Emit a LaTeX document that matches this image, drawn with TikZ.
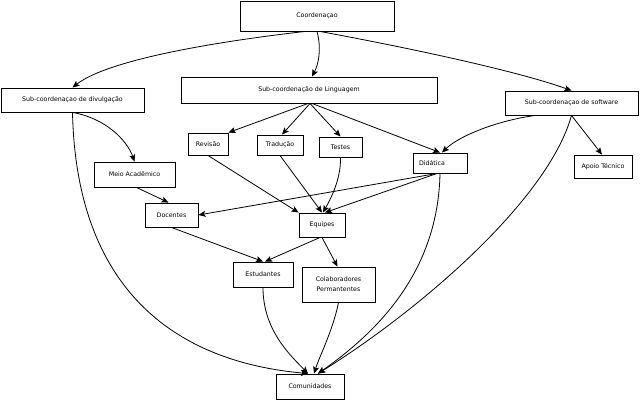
\documentclass[tikz,border=0pt]{standalone}
\usepackage{fontspec}
\setmainfont{DejaVu Sans}
\usetikzlibrary{arrows.meta,calc}
\begin{document}
\begin{tikzpicture}[x=1bp,y=-1bp,
  box/.style={draw,line width=0.9bp,inner sep=0pt,font=\fontsize{6.3}{10}\selectfont,align=center},
  sz/.style 2 args={minimum width=#1bp,minimum height=#2bp},
  arr/.style={line width=0.8bp,-{Stealth[length=7bp,width=6bp,inset=1.5bp]}}]
\fill[white] (0,0) rectangle (640,400);
\useasboundingbox (0,0) rectangle (640,400);

\node[box,sz={154}{30}] (coord) at (317,16) {Coordenaçao};
\node[box,sz={143}{24}] (subdiv) at (72.5,100) {Sub-coordenaçao de divulgação};
\node[box,sz={256}{26}] (subling) at (309,90) {Sub-coordenação de Linguagem};
\node[box,sz={133}{24}] (subsoft) at (571.5,103) {Sub-coordenaçao de software};
\node[box,sz={40}{22}] (revisao) at (208,144) {Revisão};
\node[box,sz={46}{20}] (traducao) at (280,145) {Tradução};
\node[box,sz={43}{20}] (testes) at (340.5,147) {Testes};
\node[box,sz={54}{20},text width=42bp,inner xsep=6bp,align=left] (didatica) at (440,163) {Didática};
\node[box,sz={58}{23}] (apoio) at (603,166.5) {Apoio Técnico};
\node[box,sz={81}{25}] (meio) at (134.5,174.5) {Meio Acadêmico};
\node[box,sz={53}{24}] (docentes) at (171.5,215) {Docentes};
\node[box,sz={46}{24}] (equipes) at (322,225) {Equipes};
\node[box,sz={60}{25}] (estudantes) at (263,274.5) {Estudantes};
\node[box,sz={73}{35}] (colab) at (338.5,284.5) {Colaboradores\\Permantentes};
\node[box,sz={68}{25}] (comun) at (310,386.5) {Comunidades};

% from Coordenaçao
\draw[arr] ($(coord.south)+(-12,0)$) .. controls (230,40) and (110,58) .. (subdiv.north);
\draw[arr] (coord.south) .. controls (322,50) and (318,65) .. ($(subling.north)+(3,0)$);
\draw[arr] ($(coord.south)+(3,0)$) .. controls (420,50) and (520,72) .. (subsoft.north);

% from Sub-coordenaçao de divulgação
\draw[arr] (subdiv.south) .. controls (105,118) and (127,140) .. (meio.north);
\draw[arr] (subdiv.south) .. controls (76,275) and (160,360) .. ($(comun.north)+(-2,0)$);

% from Sub-coordenação de Linguagem
\draw[arr] ($(subling.south)+(-1,0)$) -- (revisao.north east);
\draw[arr] ($(subling.south)+(1,0)$) -- ($(traducao.north)+(2,0)$);
\draw[arr] ($(subling.south)+(1,0)$) -- (testes.north);
\draw[arr] ($(subling.south)+(3,0)$) -- (didatica.north);

% from Sub-coordenaçao de software
\draw[arr] ($(subsoft.south)+(-36,0)$) .. controls (500,120) and (460,135) .. ($(didatica.north)+(2,0)$);
\draw[arr] (subsoft.south) -- ($(apoio.north)+(-1,0)$);
\draw[arr] (subsoft.south) .. controls (548,200) and (420,310) .. ($(comun.north)+(8,0)$);

% middle level
\draw[arr] ($(meio.south)+(2,0)$) -- ($(docentes.north)+(-3,0)$);
\draw[arr] (revisao.south) -- (equipes.north west);
\draw[arr] (traducao.south) -- (equipes.north);
\draw[arr] (testes.south) .. controls (341,180) and (330,200) .. ($(equipes.north)+(1,0)$);
\draw[arr] ($(didatica.south)+(-3,0)$) -- (docentes.east);
\draw[arr] ($(didatica.south)+(-3,0)$) -- ($(equipes.north)+(3,0)$);
\draw[arr] (didatica.south) .. controls (438,270) and (380,330) .. ($(comun.north)+(8,0)$);

% lower level
\draw[arr] (docentes.south) -- (estudantes.north);
\draw[arr] ($(equipes.south)+(-2,0)$) -- ($(estudantes.north)+(2,0)$);
\draw[arr] (equipes.south) -- ($(colab.north)+(-1,0)$);
\draw[arr] (estudantes.south) .. controls (263,330) and (290,355) .. ($(comun.north)+(-2,0)$);
\draw[arr] (colab.south) .. controls (333,330) and (320,355) .. ($(comun.north)+(4,0)$);
\end{tikzpicture}
\end{document}
